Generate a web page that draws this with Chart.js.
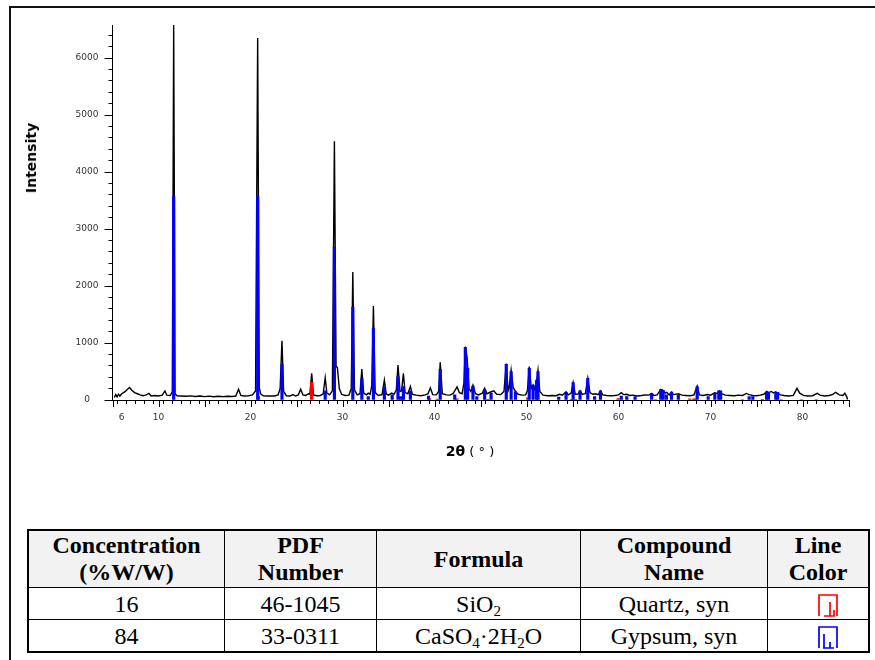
<!DOCTYPE html>
<html>
<head>
<meta charset="utf-8">
<script src="https://cdn.jsdelivr.net/npm/chart.js@4.4.1/dist/chart.umd.min.js"></script>
<style>
  body { margin: 0; background: #fff; width: 875px; height: 660px; position: relative; overflow: hidden; }
  #frame { position: absolute; left: 9px; top: 6px; width: 900px; height: 700px; border-top: 2px solid #111; border-left: 2px solid #111; }
  #wrap { position: absolute; left: 0; top: 0; width: 875px; height: 470px; }
  .ytitle { position: absolute; left: 31px; top: 158px; transform: translate(-50%, -50%) rotate(-90deg); font: bold 14px "DejaVu Sans"; color: #000; white-space: nowrap; }
  .xtitle { position: absolute; left: 470px; top: 451px; transform: translate(-50%, -50%); font: 13px "DejaVu Sans"; color: #000; white-space: nowrap; }
  .xtitle b { font-weight: bold; font-size: 14px; }
  table { position: absolute; left: 27px; top: 529px; border-collapse: collapse; font-family: "Liberation Serif", "Times New Roman", serif; font-size: 24px; color: #000; border: 2px solid #000; }
  td, th { border: 1.5px solid #000; text-align: center; padding: 0; }
  th { background: #f2f2f2; font-weight: bold; line-height: 27px; height: 56px; }
  td { height: 31px; line-height: 24px; }
  sub { font-size: 15px; vertical-align: -4px; line-height: 0; }
  .icon { display: inline-block; vertical-align: middle; margin-left: 20px; }
</style>
</head>
<body>
<div id="frame"></div>
<div id="wrap"><canvas id="xrd" width="875" height="470"></canvas></div>
<div class="ytitle">Intensity</div>
<div class="xtitle"><b>2θ</b> ( ° )</div>
<table>
  <tr>
    <th style="width:195px">Concentration<br>(%W/W)</th>
    <th style="width:151px">PDF<br>Number</th>
    <th style="width:203px">Formula</th>
    <th style="width:186px">Compound<br>Name</th>
    <th style="width:100px">Line<br>Color</th>
  </tr>
  <tr>
    <td>16</td><td>46-1045</td><td>SiO<sub>2</sub></td><td>Quartz, syn</td>
    <td><svg class="icon" width="24" height="24" viewBox="0 0 24 24"><path d="M3 23 V2 H21 V23 M14 23 V9 M18 23 V17 M8 23 H19" fill="none" stroke="#ff0000" stroke-width="1.7"/></svg></td>
  </tr>
  <tr>
    <td>84</td><td>33-0311</td><td>CaSO<sub>4</sub>·2H<sub>2</sub>O</td><td>Gypsum, syn</td>
    <td><svg class="icon" width="24" height="24" viewBox="0 0 24 24"><path d="M3 23 V2 H21 V23 M8 23 V9 M14 23 V17 M7 23 H18" fill="none" stroke="#0000ff" stroke-width="1.7"/></svg></td>
  </tr>
</table>
<script>
// observed pattern [2theta, counts]
const observed = [
  [5.2,45],[5.35,95],[5.5,55],[5.65,100],[5.8,70],[6.0,110],[6.2,130],[6.4,150],[6.6,185],[6.85,220],
  [7.1,170],[7.4,130],[7.7,110],[8.0,90],[8.3,75],[8.6,85],[8.95,115],[9.2,70],[9.6,80],[10.0,70],
  [10.4,85],[10.7,160],[10.9,85],[11.3,80],[11.5,150],[11.65,6580],[11.8,110],[12.0,75],[12.5,70],[13.0,65],
  [13.5,72],[14.0,62],[14.5,70],[15.0,60],[15.5,68],[16.0,58],[16.5,66],[17.0,60],[17.5,65],[18.0,62],
  [18.4,70],[18.7,190],[18.95,80],[19.3,70],[19.8,75],[20.2,90],[20.55,160],[20.78,6350],[20.95,220],[21.1,110],
  [21.4,75],[21.8,70],[22.2,72],[22.6,70],[23.0,90],[23.22,200],[23.42,1040],[23.6,150],[23.9,75],[24.3,70],
  [24.6,95],[24.9,70],[25.2,90],[25.45,190],[25.7,90],[26.0,80],[26.3,110],[26.45,100],[26.65,470],[26.85,90],
  [27.2,75],[27.6,80],[27.9,110],[28.12,390],[28.3,120],[28.6,90],[28.9,160],[29.12,4540],[29.3,600],[29.45,560],
  [29.65,200],[29.9,100],[30.3,80],[30.7,85],[30.95,200],[31.12,2245],[31.3,180],[31.6,90],[31.9,110],[32.1,545],
  [32.3,120],[32.6,90],[32.8,120],[33.0,100],[33.18,250],[33.36,1650],[33.55,130],[33.9,80],[34.3,95],[34.55,350],
  [34.75,110],[35.0,85],[35.35,120],[35.6,100],[35.85,180],[36.03,615],[36.25,150],[36.42,160],[36.62,470],[36.8,130],
  [37.1,110],[37.38,240],[37.6,100],[38.0,85],[38.5,75],[39.0,90],[39.3,110],[39.55,215],[39.8,95],[40.2,90],
  [40.45,150],[40.62,660],[40.85,110],[41.3,90],[41.7,85],[42.0,110],[42.2,160],[42.45,230],[42.7,130],[43.0,110],
  [43.2,300],[43.35,935],[43.55,735],[43.75,200],[43.95,150],[44.18,260],[44.45,110],[44.8,90],[45.2,120],[45.45,205],
  [45.7,110],[46.1,140],[46.45,160],[46.75,100],[47.2,95],[47.55,150],[47.8,640],[48.0,160],[48.1,200],[48.33,525],
  [48.55,220],[48.8,150],[49.1,100],[49.5,85],[49.9,90],[50.1,160],[50.3,585],[50.52,200],[50.72,265],[50.92,180],
  [51.05,250],[51.25,525],[51.45,150],[51.8,85],[52.3,75],[52.8,80],[53.2,75],[53.6,100],[53.9,85],[54.3,145],
  [54.55,90],[54.85,120],[55.07,305],[55.3,100],[55.6,105],[55.82,160],[56.05,100],[56.4,110],[56.66,380],[56.9,130],
  [57.2,100],[57.5,110],[57.8,95],[58.04,160],[58.3,90],[58.7,80],[59.2,75],[59.6,80],[60.0,90],[60.3,130],
  [60.55,95],[60.9,100],[61.2,80],[61.6,85],[62.0,70],[62.5,80],[62.9,90],[63.3,85],[63.6,115],[63.85,80],
  [64.2,90],[64.6,185],[64.85,170],[65.05,120],[65.25,135],[65.5,90],[65.76,140],[66.0,95],[66.5,110],[66.9,85],
  [67.3,80],[67.8,75],[68.2,90],[68.55,245],[68.8,90],[69.2,80],[69.7,95],[70.0,85],[70.47,125],[70.75,110],
  [70.95,160],[71.2,110],[71.6,85],[72.1,80],[72.6,75],[73.0,85],[73.5,80],[73.9,115],[74.2,95],[74.6,80],
  [75.0,75],[75.4,85],[75.8,100],[76.1,150],[76.35,130],[76.6,150],[76.85,125],[77.1,145],[77.35,110],[77.6,90],
  [78.0,80],[78.5,70],[79.0,80],[79.4,205],[79.7,120],[80.1,80],[80.6,70],[81.1,75],[81.6,118],[81.9,85],
  [82.4,70],[82.9,80],[83.3,100],[83.6,135],[84.0,90],[84.4,80],[84.6,120],[84.8,60],[84.9,10]
];

// reference lines, gypsum 33-0311 (blue)
const gypsum = [
  [11.65,3580],[20.78,3580],[23.42,620],[28.12,160],[29.12,2680],[31.12,1630],[32.1,370],[32.8,60],
  [33.36,1260],[34.55,235],[35.4,90],[36.03,410],[36.3,60],[36.62,235],[37.38,160],[39.35,70],
  [40.62,540],[42.2,90],[43.35,925],[43.6,560],[44.18,245],[44.6,60],[45.45,185],[46.15,120],
  [47.8,625],[48.33,500],[48.8,145],[50.3,555],[50.72,260],[51.1,350],[51.25,500],[53.5,50],
  [54.3,130],[55.07,305],[55.82,160],[56.66,380],[57.4,60],[58.04,160],[60.3,70],[60.9,60],
  [61.8,60],[63.6,115],[64.6,185],[64.85,170],[65.2,90],[65.76,140],[66.5,80],[68.55,235],
  [69.75,60],[70.47,120],[70.9,160],[71.1,160],[74.2,60],[74.6,60],[76.1,135],[76.3,135],
  [77.1,135],[77.3,135]
];

// reference lines, quartz 46-1045 (red)
const quartz = [
  [20.86,66],[26.64,310],[36.54,25],[39.47,25],[40.29,15],[42.45,20],[45.79,12],[50.14,40],
  [54.87,12],[55.33,10],[59.96,25],[64.03,8],[67.74,20],[68.14,15],[68.32,20],[73.46,8],
  [75.64,10],[77.67,8],[79.88,8],[81.49,8]
];

const xTickLabels = [6, 10, 20, 30, 40, 50, 60, 70, 80];
const yTickLabels = [0, 1000, 2000, 3000, 4000, 5000, 6000];

const toXY = arr => arr.map(p => ({ x: p[0], y: p[1] }));

// tick marks every 1 deg / 200 counts
function stepTicks(from, to, step) {
  const out = [];
  for (let v = from; v <= to; v += step) out.push({ value: v });
  return out;
}

// longer tick marks on every 5 deg / 1000 counts
const majorTicks = {
  id: 'majorTicks',
  afterDraw(chart) {
    const { ctx, scales: { x, y } } = chart;
    ctx.save();
    ctx.strokeStyle = '#000';
    ctx.lineWidth = 1;
    ctx.beginPath();
    for (let v = 5; v <= 85; v += 5) {
      const px = Math.round(x.getPixelForValue(v)) + 0.5;
      ctx.moveTo(px, y.bottom);
      ctx.lineTo(px, y.bottom + 7);
    }
    for (let v = 0; v <= 6000; v += 1000) {
      const py = Math.round(y.getPixelForValue(v)) + 0.5;
      ctx.moveTo(x.left, py);
      ctx.lineTo(x.left - 8, py);
    }
    ctx.stroke();
    ctx.restore();
  }
};

const tickFont = { family: 'DejaVu Sans', size: 9 };

new Chart(document.getElementById('xrd').getContext('2d'), {
  type: 'line',
  data: {
    datasets: [
      { type: 'bar', data: toXY(gypsum), backgroundColor: '#0000ff', barThickness: 2.5, grouped: false, order: 0 },
      { type: 'bar', data: toXY(quartz), backgroundColor: '#ff0000', barThickness: 2.5, grouped: false, order: 0 },
      { type: 'line', data: toXY(observed), borderColor: '#000', borderWidth: 1.4, pointRadius: 0, tension: 0, order: 1 }
    ]
  },
  options: {
    responsive: false,
    animation: false,
    layout: { padding: { left: 40, top: 25, right: 26.5, bottom: 40 } },
    plugins: { legend: { display: false }, tooltip: { enabled: false } },
    scales: {
      x: {
        type: 'linear', min: 5, max: 85, offset: false,
        afterBuildTicks: s => { s.ticks = stepTicks(5, 85, 1); },
        afterFit: s => { s.height = 30; },
        grid: { display: true, drawOnChartArea: false, tickLength: 4, color: '#000' },
        border: { display: true, color: '#000', width: 1 },
        ticks: {
          autoSkip: false, maxRotation: 0, padding: 8, color: '#333', font: tickFont,
          callback: v => xTickLabels.includes(v) ? String(v) : ''
        }
      },
      y: {
        type: 'linear', min: 0, max: 6580,
        afterBuildTicks: s => { s.ticks = stepTicks(0, 6400, 200); },
        afterFit: s => { s.width = 72.5; },
        grid: { display: true, drawOnChartArea: false, tickLength: 4, color: '#000' },
        border: { display: true, color: '#000', width: 1 },
        ticks: {
          autoSkip: false, padding: 10, crossAlign: 'center', color: '#333', font: tickFont,
          callback: v => yTickLabels.includes(v) ? String(v) : ''
        }
      }
    }
  },
  plugins: [majorTicks]
});
</script>
</body>
</html>
